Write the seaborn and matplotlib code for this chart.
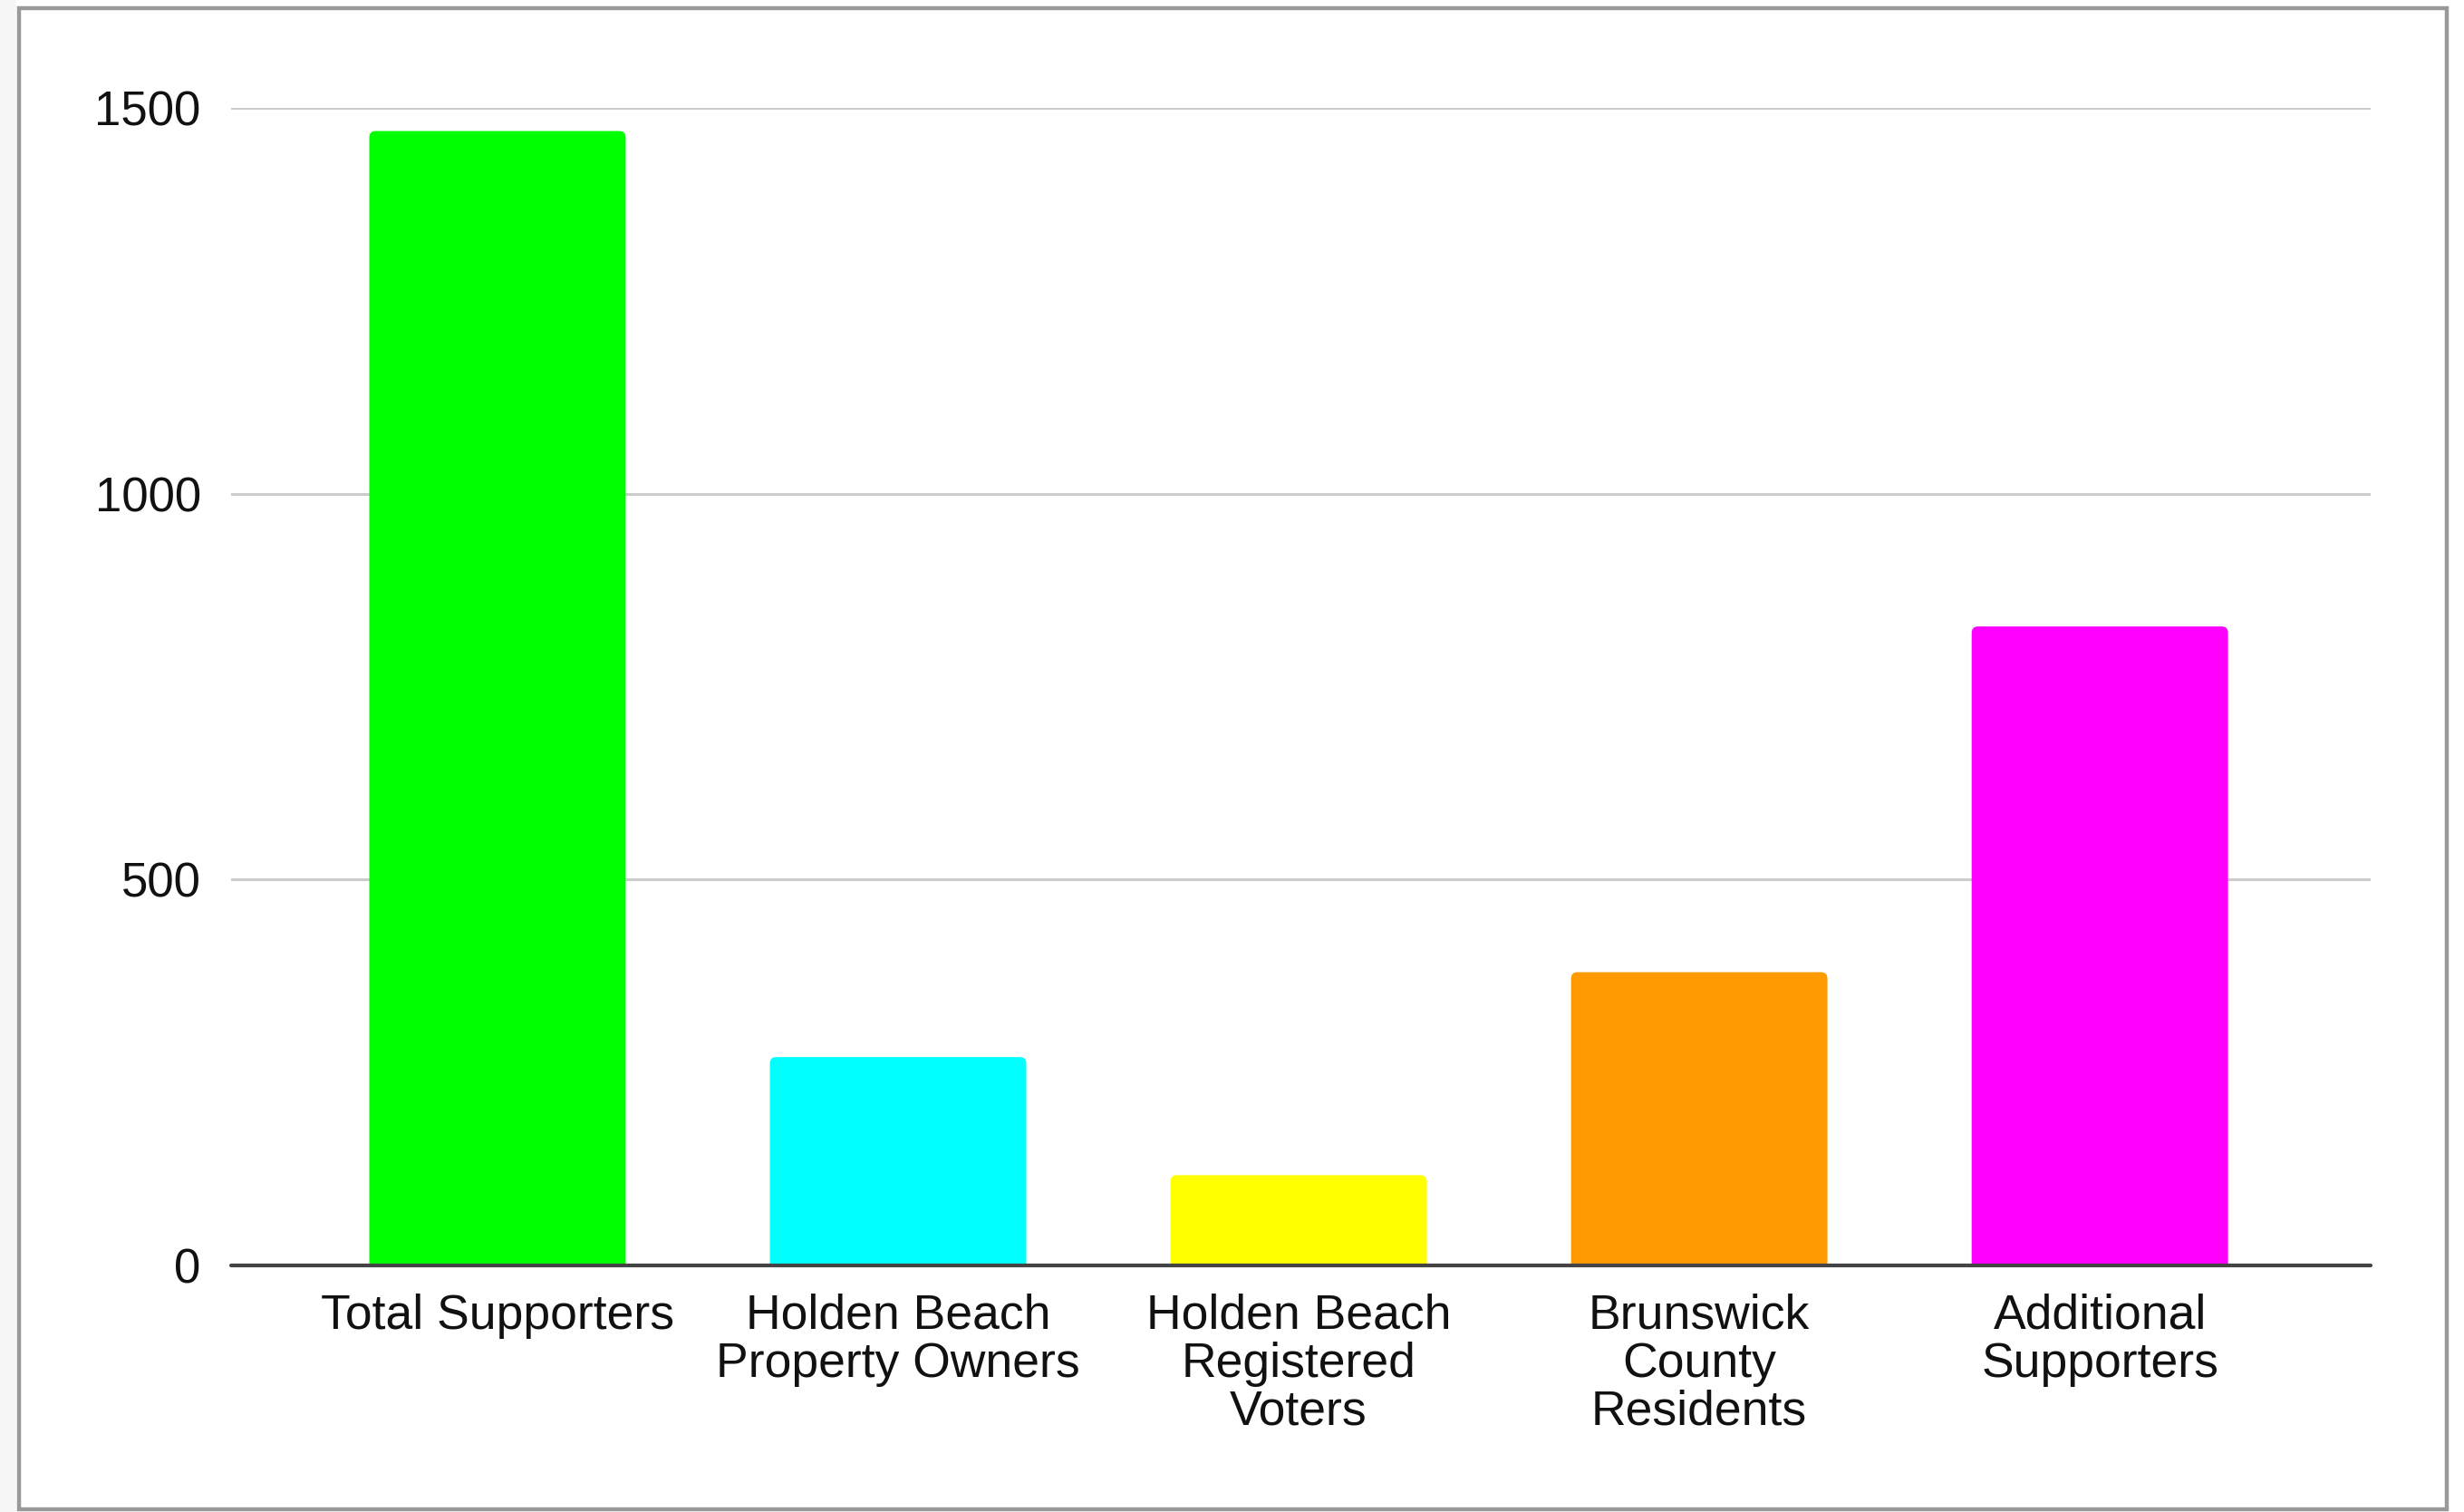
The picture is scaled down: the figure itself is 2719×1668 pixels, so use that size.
import matplotlib
matplotlib.use("Agg")
import matplotlib.pyplot as plt
import seaborn as sns
import pandas as pd
from matplotlib.patches import Rectangle, FancyBboxPatch

categories = ["Total Supporters",
              "Holden Beach\nProperty Owners",
              "Holden Beach\nRegistered\nVoters",
              "Brunswick\nCounty\nResidents",
              "Additional\nSupporters"]
supporters = [1470, 270, 117, 380, 828]
bar_colors = ["#00ff00", "#00ffff", "#ffff00", "#ff9900", "#ff00ff"]
y_ticks = [0, 500, 1000, 1500]

df = pd.DataFrame({"group": categories, "count": supporters})

sns.set_theme(style="white")
plt.rcParams['font.family'] = ['Liberation Sans', 'DejaVu Sans']

W, H = 2719, 1668
fig = plt.figure(figsize=(W / 100, H / 100), dpi=100)
fig.patch.set_facecolor("white")

# spreadsheet-ish surroundings and chart frame (kept below the axes)
fig.patches.append(Rectangle((0, 0), 18 / W, 1, transform=fig.transFigure,
                             facecolor="#f7f7f7", edgecolor="none", zorder=-3))
fig.patches.append(Rectangle((21 / W, 1 - 1665 / H), (2700 - 21) / W, (1665 - 9) / H,
                             transform=fig.transFigure, facecolor="white",
                             edgecolor="#999999", linewidth=3.2, zorder=-2))

ax = fig.add_axes([255 / W, 1 - 1396 / H, (2616 - 255) / W, (1396 - 119) / H])
ax.set_facecolor("none")

sns.barplot(data=df, x="group", y="count", hue="group", palette=bar_colors,
            width=0.64, saturation=1, legend=False, ax=ax, zorder=3)

ax.set_xlim(-0.665, 4.676)
ax.set_ylim(0, 1500)

# slightly rounded bar corners, like the spreadsheet chart
px_x = (2616 - 255) / (4.676 + 0.665)
px_y = (1396 - 119) / 1500
r_x = 7 / px_x
for p in list(ax.patches):
    x0, w, h = p.get_x(), p.get_width(), p.get_height()
    fc = p.get_facecolor()
    p.remove()
    ax.add_patch(FancyBboxPatch((x0, -20), w, h + 20,
                                boxstyle=f"round,pad=0,rounding_size={r_x}",
                                mutation_aspect=px_x / px_y,
                                facecolor=fc, edgecolor="none", zorder=3))

ax.set_yticks(y_ticks)
ax.set_yticklabels([str(t) for t in y_ticks])
ax.set_axisbelow(True)
ax.yaxis.grid(True, color="#cccccc", linewidth=2.2)
ax.xaxis.grid(False)
ax.axhline(0, color="#444444", linewidth=3, zorder=4, clip_on=False)

for s in ax.spines.values():
    s.set_visible(False)

ax.tick_params(axis="y", length=0, pad=24, labelsize=38, labelcolor="#111111")
ax.tick_params(axis="x", length=0, pad=22, labelsize=38.5, labelcolor="#111111")
for lbl in ax.get_xticklabels():
    lbl.set_linespacing(1.08)
    lbl.set_multialignment("center")

ax.set_xlabel("")
ax.set_ylabel("")

fig.savefig("out.png", dpi=100)
